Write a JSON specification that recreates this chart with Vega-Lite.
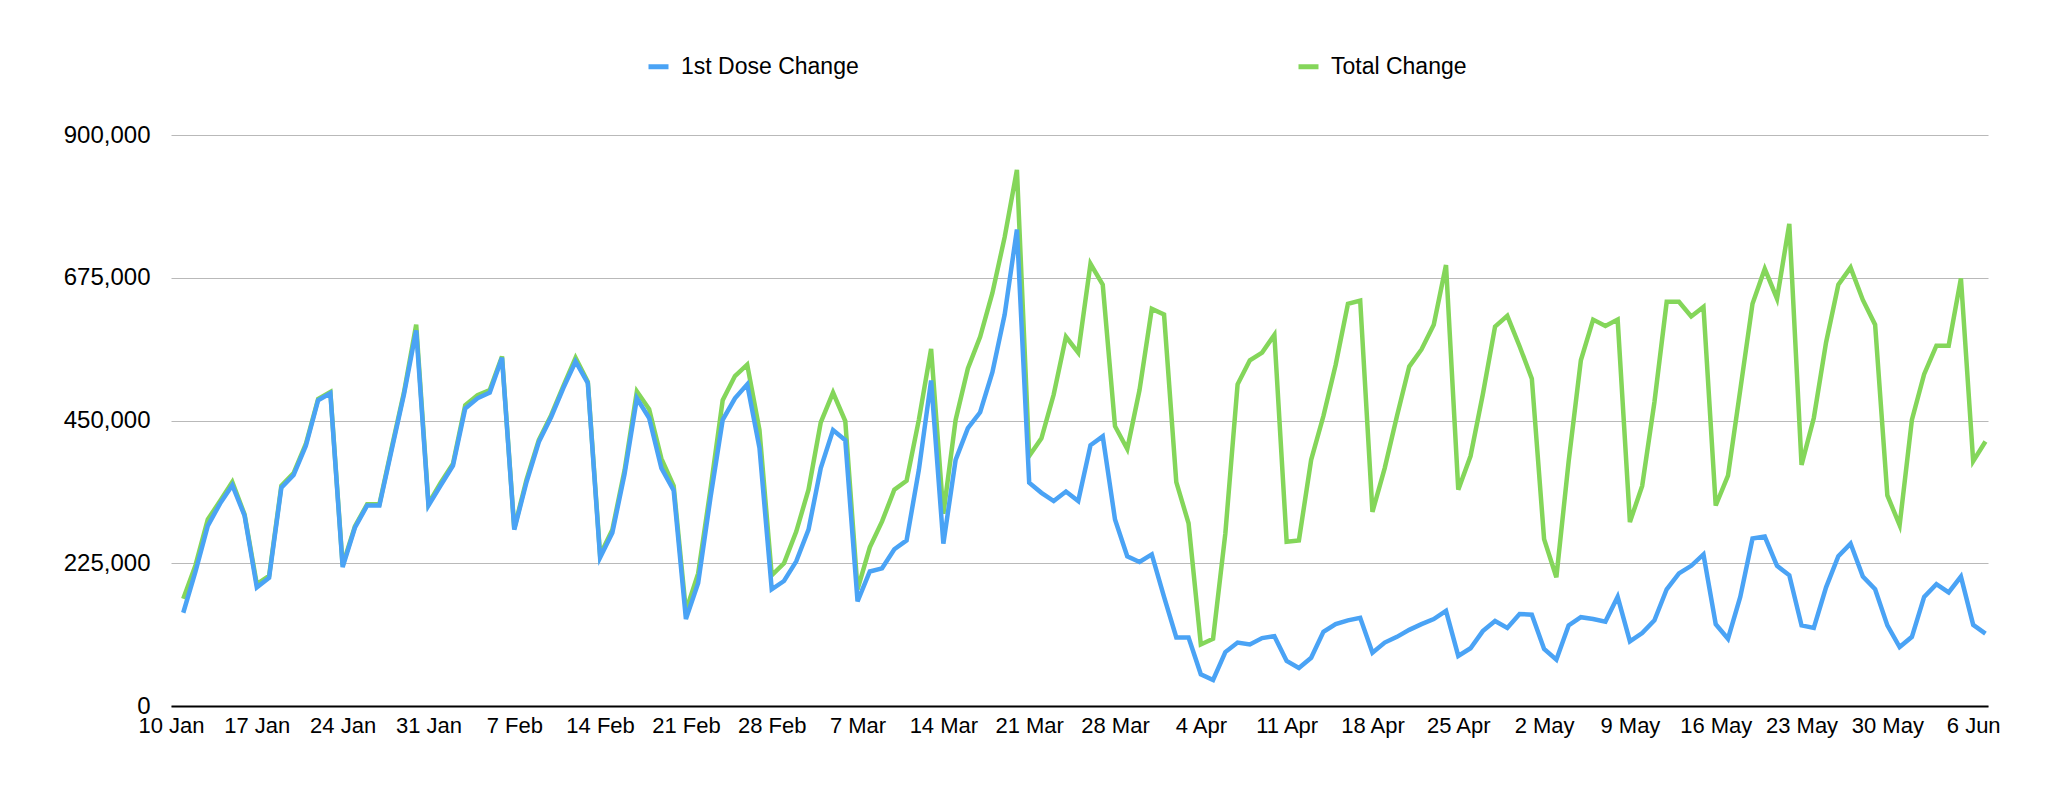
{
  "$schema": "https://vega.github.io/schema/vega-lite/v6.json",
  "width": 1817,
  "height": 571,
  "autosize": "none",
  "padding": {"left": 171, "top": 135, "right": 63, "bottom": 83},
  "background": "white",
  "config": {
    "view": {"stroke": null},
    "font": "Liberation Sans"
  },
  "data": {
    "values": [
      {"date":"2021-01-11","series":"Total Change","value":169000},
      {"date":"2021-01-12","series":"Total Change","value":222000},
      {"date":"2021-01-13","series":"Total Change","value":294000},
      {"date":"2021-01-14","series":"Total Change","value":323000},
      {"date":"2021-01-15","series":"Total Change","value":353000},
      {"date":"2021-01-16","series":"Total Change","value":302000},
      {"date":"2021-01-17","series":"Total Change","value":192000},
      {"date":"2021-01-18","series":"Total Change","value":205000},
      {"date":"2021-01-19","series":"Total Change","value":347000},
      {"date":"2021-01-20","series":"Total Change","value":367000},
      {"date":"2021-01-21","series":"Total Change","value":413000},
      {"date":"2021-01-22","series":"Total Change","value":484000},
      {"date":"2021-01-23","series":"Total Change","value":495000},
      {"date":"2021-01-24","series":"Total Change","value":222000},
      {"date":"2021-01-25","series":"Total Change","value":283000},
      {"date":"2021-01-26","series":"Total Change","value":318000},
      {"date":"2021-01-27","series":"Total Change","value":318000},
      {"date":"2021-01-28","series":"Total Change","value":407000},
      {"date":"2021-01-29","series":"Total Change","value":494000},
      {"date":"2021-01-30","series":"Total Change","value":601000},
      {"date":"2021-01-31","series":"Total Change","value":319000},
      {"date":"2021-02-01","series":"Total Change","value":352000},
      {"date":"2021-02-02","series":"Total Change","value":382000},
      {"date":"2021-02-03","series":"Total Change","value":474000},
      {"date":"2021-02-04","series":"Total Change","value":490000},
      {"date":"2021-02-05","series":"Total Change","value":498000},
      {"date":"2021-02-06","series":"Total Change","value":551000},
      {"date":"2021-02-07","series":"Total Change","value":280000},
      {"date":"2021-02-08","series":"Total Change","value":357000},
      {"date":"2021-02-09","series":"Total Change","value":419000},
      {"date":"2021-02-10","series":"Total Change","value":458000},
      {"date":"2021-02-11","series":"Total Change","value":504000},
      {"date":"2021-02-12","series":"Total Change","value":549000},
      {"date":"2021-02-13","series":"Total Change","value":511000},
      {"date":"2021-02-14","series":"Total Change","value":238000},
      {"date":"2021-02-15","series":"Total Change","value":278000},
      {"date":"2021-02-16","series":"Total Change","value":372000},
      {"date":"2021-02-17","series":"Total Change","value":496000},
      {"date":"2021-02-18","series":"Total Change","value":468000},
      {"date":"2021-02-19","series":"Total Change","value":390000},
      {"date":"2021-02-20","series":"Total Change","value":347000},
      {"date":"2021-02-21","series":"Total Change","value":150000},
      {"date":"2021-02-22","series":"Total Change","value":209000},
      {"date":"2021-02-23","series":"Total Change","value":341000},
      {"date":"2021-02-24","series":"Total Change","value":482000},
      {"date":"2021-02-25","series":"Total Change","value":520000},
      {"date":"2021-02-26","series":"Total Change","value":538000},
      {"date":"2021-02-27","series":"Total Change","value":435000},
      {"date":"2021-02-28","series":"Total Change","value":206000},
      {"date":"2021-03-01","series":"Total Change","value":225000},
      {"date":"2021-03-02","series":"Total Change","value":275000},
      {"date":"2021-03-03","series":"Total Change","value":341000},
      {"date":"2021-03-04","series":"Total Change","value":447000},
      {"date":"2021-03-05","series":"Total Change","value":494000},
      {"date":"2021-03-06","series":"Total Change","value":449000},
      {"date":"2021-03-07","series":"Total Change","value":184000},
      {"date":"2021-03-08","series":"Total Change","value":250000},
      {"date":"2021-03-09","series":"Total Change","value":291000},
      {"date":"2021-03-10","series":"Total Change","value":341000},
      {"date":"2021-03-11","series":"Total Change","value":355000},
      {"date":"2021-03-12","series":"Total Change","value":451000},
      {"date":"2021-03-13","series":"Total Change","value":563000},
      {"date":"2021-03-14","series":"Total Change","value":303000},
      {"date":"2021-03-15","series":"Total Change","value":451000},
      {"date":"2021-03-16","series":"Total Change","value":532000},
      {"date":"2021-03-17","series":"Total Change","value":582000},
      {"date":"2021-03-18","series":"Total Change","value":651000},
      {"date":"2021-03-19","series":"Total Change","value":739000},
      {"date":"2021-03-20","series":"Total Change","value":845000},
      {"date":"2021-03-21","series":"Total Change","value":394000},
      {"date":"2021-03-22","series":"Total Change","value":422000},
      {"date":"2021-03-23","series":"Total Change","value":491000},
      {"date":"2021-03-24","series":"Total Change","value":582000},
      {"date":"2021-03-25","series":"Total Change","value":557000},
      {"date":"2021-03-26","series":"Total Change","value":697000},
      {"date":"2021-03-27","series":"Total Change","value":664000},
      {"date":"2021-03-28","series":"Total Change","value":441000},
      {"date":"2021-03-29","series":"Total Change","value":405000},
      {"date":"2021-03-30","series":"Total Change","value":498000},
      {"date":"2021-03-31","series":"Total Change","value":626000},
      {"date":"2021-04-01","series":"Total Change","value":617000},
      {"date":"2021-04-02","series":"Total Change","value":353000},
      {"date":"2021-04-03","series":"Total Change","value":288000},
      {"date":"2021-04-04","series":"Total Change","value":97000},
      {"date":"2021-04-05","series":"Total Change","value":106000},
      {"date":"2021-04-06","series":"Total Change","value":272000},
      {"date":"2021-04-07","series":"Total Change","value":507000},
      {"date":"2021-04-08","series":"Total Change","value":545000},
      {"date":"2021-04-09","series":"Total Change","value":557000},
      {"date":"2021-04-10","series":"Total Change","value":585000},
      {"date":"2021-04-11","series":"Total Change","value":259000},
      {"date":"2021-04-12","series":"Total Change","value":261000},
      {"date":"2021-04-13","series":"Total Change","value":388000},
      {"date":"2021-04-14","series":"Total Change","value":457000},
      {"date":"2021-04-15","series":"Total Change","value":538000},
      {"date":"2021-04-16","series":"Total Change","value":634000},
      {"date":"2021-04-17","series":"Total Change","value":639000},
      {"date":"2021-04-18","series":"Total Change","value":306000},
      {"date":"2021-04-19","series":"Total Change","value":375000},
      {"date":"2021-04-20","series":"Total Change","value":457000},
      {"date":"2021-04-21","series":"Total Change","value":535000},
      {"date":"2021-04-22","series":"Total Change","value":562000},
      {"date":"2021-04-23","series":"Total Change","value":601000},
      {"date":"2021-04-24","series":"Total Change","value":695000},
      {"date":"2021-04-25","series":"Total Change","value":341000},
      {"date":"2021-04-26","series":"Total Change","value":394000},
      {"date":"2021-04-27","series":"Total Change","value":491000},
      {"date":"2021-04-28","series":"Total Change","value":598000},
      {"date":"2021-04-29","series":"Total Change","value":615000},
      {"date":"2021-04-30","series":"Total Change","value":567000},
      {"date":"2021-05-01","series":"Total Change","value":516000},
      {"date":"2021-05-02","series":"Total Change","value":263000},
      {"date":"2021-05-03","series":"Total Change","value":203000},
      {"date":"2021-05-04","series":"Total Change","value":385000},
      {"date":"2021-05-05","series":"Total Change","value":545000},
      {"date":"2021-05-06","series":"Total Change","value":609000},
      {"date":"2021-05-07","series":"Total Change","value":599000},
      {"date":"2021-05-08","series":"Total Change","value":609000},
      {"date":"2021-05-09","series":"Total Change","value":290000},
      {"date":"2021-05-10","series":"Total Change","value":347000},
      {"date":"2021-05-11","series":"Total Change","value":479000},
      {"date":"2021-05-12","series":"Total Change","value":637000},
      {"date":"2021-05-13","series":"Total Change","value":637000},
      {"date":"2021-05-14","series":"Total Change","value":614000},
      {"date":"2021-05-15","series":"Total Change","value":629000},
      {"date":"2021-05-16","series":"Total Change","value":316000},
      {"date":"2021-05-17","series":"Total Change","value":363000},
      {"date":"2021-05-18","series":"Total Change","value":498000},
      {"date":"2021-05-19","series":"Total Change","value":634000},
      {"date":"2021-05-20","series":"Total Change","value":689000},
      {"date":"2021-05-21","series":"Total Change","value":642000},
      {"date":"2021-05-22","series":"Total Change","value":760000},
      {"date":"2021-05-23","series":"Total Change","value":380000},
      {"date":"2021-05-24","series":"Total Change","value":454000},
      {"date":"2021-05-25","series":"Total Change","value":573000},
      {"date":"2021-05-26","series":"Total Change","value":664000},
      {"date":"2021-05-27","series":"Total Change","value":691000},
      {"date":"2021-05-28","series":"Total Change","value":640000},
      {"date":"2021-05-29","series":"Total Change","value":601000},
      {"date":"2021-05-30","series":"Total Change","value":332000},
      {"date":"2021-05-31","series":"Total Change","value":285000},
      {"date":"2021-06-01","series":"Total Change","value":451000},
      {"date":"2021-06-02","series":"Total Change","value":523000},
      {"date":"2021-06-03","series":"Total Change","value":568000},
      {"date":"2021-06-04","series":"Total Change","value":568000},
      {"date":"2021-06-05","series":"Total Change","value":674000},
      {"date":"2021-06-06","series":"Total Change","value":386000},
      {"date":"2021-06-07","series":"Total Change","value":417000},
      {"date":"2021-01-11","series":"1st Dose Change","value":147000},
      {"date":"2021-01-12","series":"1st Dose Change","value":212000},
      {"date":"2021-01-13","series":"1st Dose Change","value":284000},
      {"date":"2021-01-14","series":"1st Dose Change","value":319000},
      {"date":"2021-01-15","series":"1st Dose Change","value":348000},
      {"date":"2021-01-16","series":"1st Dose Change","value":300000},
      {"date":"2021-01-17","series":"1st Dose Change","value":187000},
      {"date":"2021-01-18","series":"1st Dose Change","value":202000},
      {"date":"2021-01-19","series":"1st Dose Change","value":344000},
      {"date":"2021-01-20","series":"1st Dose Change","value":364000},
      {"date":"2021-01-21","series":"1st Dose Change","value":410000},
      {"date":"2021-01-22","series":"1st Dose Change","value":482000},
      {"date":"2021-01-23","series":"1st Dose Change","value":493000},
      {"date":"2021-01-24","series":"1st Dose Change","value":219000},
      {"date":"2021-01-25","series":"1st Dose Change","value":281000},
      {"date":"2021-01-26","series":"1st Dose Change","value":316000},
      {"date":"2021-01-27","series":"1st Dose Change","value":316000},
      {"date":"2021-01-28","series":"1st Dose Change","value":404000},
      {"date":"2021-01-29","series":"1st Dose Change","value":491000},
      {"date":"2021-01-30","series":"1st Dose Change","value":592000},
      {"date":"2021-01-31","series":"1st Dose Change","value":316000},
      {"date":"2021-02-01","series":"1st Dose Change","value":348000},
      {"date":"2021-02-02","series":"1st Dose Change","value":379000},
      {"date":"2021-02-03","series":"1st Dose Change","value":469000},
      {"date":"2021-02-04","series":"1st Dose Change","value":485000},
      {"date":"2021-02-05","series":"1st Dose Change","value":494000},
      {"date":"2021-02-06","series":"1st Dose Change","value":549000},
      {"date":"2021-02-07","series":"1st Dose Change","value":278000},
      {"date":"2021-02-08","series":"1st Dose Change","value":353000},
      {"date":"2021-02-09","series":"1st Dose Change","value":416000},
      {"date":"2021-02-10","series":"1st Dose Change","value":455000},
      {"date":"2021-02-11","series":"1st Dose Change","value":501000},
      {"date":"2021-02-12","series":"1st Dose Change","value":543000},
      {"date":"2021-02-13","series":"1st Dose Change","value":509000},
      {"date":"2021-02-14","series":"1st Dose Change","value":234000},
      {"date":"2021-02-15","series":"1st Dose Change","value":273000},
      {"date":"2021-02-16","series":"1st Dose Change","value":366000},
      {"date":"2021-02-17","series":"1st Dose Change","value":485000},
      {"date":"2021-02-18","series":"1st Dose Change","value":454000},
      {"date":"2021-02-19","series":"1st Dose Change","value":375000},
      {"date":"2021-02-20","series":"1st Dose Change","value":340000},
      {"date":"2021-02-21","series":"1st Dose Change","value":137000},
      {"date":"2021-02-22","series":"1st Dose Change","value":194000},
      {"date":"2021-02-23","series":"1st Dose Change","value":328000},
      {"date":"2021-02-24","series":"1st Dose Change","value":451000},
      {"date":"2021-02-25","series":"1st Dose Change","value":485000},
      {"date":"2021-02-26","series":"1st Dose Change","value":507000},
      {"date":"2021-02-27","series":"1st Dose Change","value":407000},
      {"date":"2021-02-28","series":"1st Dose Change","value":184000},
      {"date":"2021-03-01","series":"1st Dose Change","value":197000},
      {"date":"2021-03-02","series":"1st Dose Change","value":228000},
      {"date":"2021-03-03","series":"1st Dose Change","value":278000},
      {"date":"2021-03-04","series":"1st Dose Change","value":375000},
      {"date":"2021-03-05","series":"1st Dose Change","value":435000},
      {"date":"2021-03-06","series":"1st Dose Change","value":419000},
      {"date":"2021-03-07","series":"1st Dose Change","value":165000},
      {"date":"2021-03-08","series":"1st Dose Change","value":212000},
      {"date":"2021-03-09","series":"1st Dose Change","value":217000},
      {"date":"2021-03-10","series":"1st Dose Change","value":247000},
      {"date":"2021-03-11","series":"1st Dose Change","value":261000},
      {"date":"2021-03-12","series":"1st Dose Change","value":372000},
      {"date":"2021-03-13","series":"1st Dose Change","value":513000},
      {"date":"2021-03-14","series":"1st Dose Change","value":256000},
      {"date":"2021-03-15","series":"1st Dose Change","value":388000},
      {"date":"2021-03-16","series":"1st Dose Change","value":438000},
      {"date":"2021-03-17","series":"1st Dose Change","value":463000},
      {"date":"2021-03-18","series":"1st Dose Change","value":526000},
      {"date":"2021-03-19","series":"1st Dose Change","value":617000},
      {"date":"2021-03-20","series":"1st Dose Change","value":751000},
      {"date":"2021-03-21","series":"1st Dose Change","value":352000},
      {"date":"2021-03-22","series":"1st Dose Change","value":336000},
      {"date":"2021-03-23","series":"1st Dose Change","value":323000},
      {"date":"2021-03-24","series":"1st Dose Change","value":338000},
      {"date":"2021-03-25","series":"1st Dose Change","value":323000},
      {"date":"2021-03-26","series":"1st Dose Change","value":411000},
      {"date":"2021-03-27","series":"1st Dose Change","value":425000},
      {"date":"2021-03-28","series":"1st Dose Change","value":294000},
      {"date":"2021-03-29","series":"1st Dose Change","value":236000},
      {"date":"2021-03-30","series":"1st Dose Change","value":227000},
      {"date":"2021-03-31","series":"1st Dose Change","value":239000},
      {"date":"2021-04-01","series":"1st Dose Change","value":172000},
      {"date":"2021-04-02","series":"1st Dose Change","value":108000},
      {"date":"2021-04-03","series":"1st Dose Change","value":108000},
      {"date":"2021-04-04","series":"1st Dose Change","value":50000},
      {"date":"2021-04-05","series":"1st Dose Change","value":41000},
      {"date":"2021-04-06","series":"1st Dose Change","value":85000},
      {"date":"2021-04-07","series":"1st Dose Change","value":100000},
      {"date":"2021-04-08","series":"1st Dose Change","value":97000},
      {"date":"2021-04-09","series":"1st Dose Change","value":107000},
      {"date":"2021-04-10","series":"1st Dose Change","value":110000},
      {"date":"2021-04-11","series":"1st Dose Change","value":71000},
      {"date":"2021-04-12","series":"1st Dose Change","value":60000},
      {"date":"2021-04-13","series":"1st Dose Change","value":76000},
      {"date":"2021-04-14","series":"1st Dose Change","value":117000},
      {"date":"2021-04-15","series":"1st Dose Change","value":129000},
      {"date":"2021-04-16","series":"1st Dose Change","value":135000},
      {"date":"2021-04-17","series":"1st Dose Change","value":139000},
      {"date":"2021-04-18","series":"1st Dose Change","value":84000},
      {"date":"2021-04-19","series":"1st Dose Change","value":100000},
      {"date":"2021-04-20","series":"1st Dose Change","value":109000},
      {"date":"2021-04-21","series":"1st Dose Change","value":120000},
      {"date":"2021-04-22","series":"1st Dose Change","value":129000},
      {"date":"2021-04-23","series":"1st Dose Change","value":137000},
      {"date":"2021-04-24","series":"1st Dose Change","value":150000},
      {"date":"2021-04-25","series":"1st Dose Change","value":79000},
      {"date":"2021-04-26","series":"1st Dose Change","value":91000},
      {"date":"2021-04-27","series":"1st Dose Change","value":118000},
      {"date":"2021-04-28","series":"1st Dose Change","value":134000},
      {"date":"2021-04-29","series":"1st Dose Change","value":123000},
      {"date":"2021-04-30","series":"1st Dose Change","value":145000},
      {"date":"2021-05-01","series":"1st Dose Change","value":144000},
      {"date":"2021-05-02","series":"1st Dose Change","value":90000},
      {"date":"2021-05-03","series":"1st Dose Change","value":73000},
      {"date":"2021-05-04","series":"1st Dose Change","value":127000},
      {"date":"2021-05-05","series":"1st Dose Change","value":140000},
      {"date":"2021-05-06","series":"1st Dose Change","value":137000},
      {"date":"2021-05-07","series":"1st Dose Change","value":133000},
      {"date":"2021-05-08","series":"1st Dose Change","value":172000},
      {"date":"2021-05-09","series":"1st Dose Change","value":102000},
      {"date":"2021-05-10","series":"1st Dose Change","value":115000},
      {"date":"2021-05-11","series":"1st Dose Change","value":135000},
      {"date":"2021-05-12","series":"1st Dose Change","value":184000},
      {"date":"2021-05-13","series":"1st Dose Change","value":209000},
      {"date":"2021-05-14","series":"1st Dose Change","value":221000},
      {"date":"2021-05-15","series":"1st Dose Change","value":239000},
      {"date":"2021-05-16","series":"1st Dose Change","value":129000},
      {"date":"2021-05-17","series":"1st Dose Change","value":106000},
      {"date":"2021-05-18","series":"1st Dose Change","value":172000},
      {"date":"2021-05-19","series":"1st Dose Change","value":264000},
      {"date":"2021-05-20","series":"1st Dose Change","value":267000},
      {"date":"2021-05-21","series":"1st Dose Change","value":221000},
      {"date":"2021-05-22","series":"1st Dose Change","value":206000},
      {"date":"2021-05-23","series":"1st Dose Change","value":127000},
      {"date":"2021-05-24","series":"1st Dose Change","value":123000},
      {"date":"2021-05-25","series":"1st Dose Change","value":187000},
      {"date":"2021-05-26","series":"1st Dose Change","value":236000},
      {"date":"2021-05-27","series":"1st Dose Change","value":256000},
      {"date":"2021-05-28","series":"1st Dose Change","value":204000},
      {"date":"2021-05-29","series":"1st Dose Change","value":184000},
      {"date":"2021-05-30","series":"1st Dose Change","value":127000},
      {"date":"2021-05-31","series":"1st Dose Change","value":93000},
      {"date":"2021-06-01","series":"1st Dose Change","value":109000},
      {"date":"2021-06-02","series":"1st Dose Change","value":172000},
      {"date":"2021-06-03","series":"1st Dose Change","value":192000},
      {"date":"2021-06-04","series":"1st Dose Change","value":179000},
      {"date":"2021-06-05","series":"1st Dose Change","value":204000},
      {"date":"2021-06-06","series":"1st Dose Change","value":128000},
      {"date":"2021-06-07","series":"1st Dose Change","value":114000}
    ]
  },
  "mark": {"type": "line", "strokeWidth": 4.5, "strokeJoin": "miter", "strokeCap": "butt"},
  "encoding": {
    "x": {
      "field": "date",
      "type": "temporal",
      "scale": {
        "type": "utc",
        "domain": [
          {"year": 2021, "month": 1, "date": 10, "utc": true},
          {"year": 2021, "month": 6, "date": 7, "hours": 5, "utc": true}
        ]
      },
      "axis": {
        "title": null,
        "grid": false,
        "ticks": false,
        "domainColor": "black",
        "domainWidth": 2,
        "labelFontSize": 22,
        "labelColor": "black",
        "labelPadding": 9,
        "labelOverlap": false,
        "labelFlush": false,
        "labelExpr": "utcFormat(datum.value, '%-d %b')",
        "values": [
          {"year": 2021, "month": 1, "date": 10, "utc": true},
          {"year": 2021, "month": 1, "date": 17, "utc": true},
          {"year": 2021, "month": 1, "date": 24, "utc": true},
          {"year": 2021, "month": 1, "date": 31, "utc": true},
          {"year": 2021, "month": 2, "date": 7, "utc": true},
          {"year": 2021, "month": 2, "date": 14, "utc": true},
          {"year": 2021, "month": 2, "date": 21, "utc": true},
          {"year": 2021, "month": 2, "date": 28, "utc": true},
          {"year": 2021, "month": 3, "date": 7, "utc": true},
          {"year": 2021, "month": 3, "date": 14, "utc": true},
          {"year": 2021, "month": 3, "date": 21, "utc": true},
          {"year": 2021, "month": 3, "date": 28, "utc": true},
          {"year": 2021, "month": 4, "date": 4, "utc": true},
          {"year": 2021, "month": 4, "date": 11, "utc": true},
          {"year": 2021, "month": 4, "date": 18, "utc": true},
          {"year": 2021, "month": 4, "date": 25, "utc": true},
          {"year": 2021, "month": 5, "date": 2, "utc": true},
          {"year": 2021, "month": 5, "date": 9, "utc": true},
          {"year": 2021, "month": 5, "date": 16, "utc": true},
          {"year": 2021, "month": 5, "date": 23, "utc": true},
          {"year": 2021, "month": 5, "date": 30, "utc": true},
          {"year": 2021, "month": 6, "date": 6, "utc": true}
        ]
      }
    },
    "y": {
      "field": "value",
      "type": "quantitative",
      "scale": {"domain": [0, 900000], "nice": false},
      "axis": {
        "title": null,
        "domain": false,
        "ticks": false,
        "gridColor": "#b9b9b9",
        "gridWidth": 1,
        "labelFontSize": 24,
        "labelColor": "black",
        "labelPadding": 21,
        "format": ",.0f",
        "values": [0, 225000, 450000, 675000, 900000]
      }
    },
    "color": {
      "field": "series",
      "type": "nominal",
      "scale": {
        "domain": ["1st Dose Change", "Total Change"],
        "range": ["#4aa3f5", "#84d65a"]
      },
      "legend": {
        "title": null,
        "orient": "none",
        "legendX": 475,
        "legendY": -81,
        "direction": "horizontal",
        "symbolType": "stroke",
        "symbolSize": 400,
        "symbolStrokeWidth": 5,
        "labelFontSize": 23,
        "labelColor": "black",
        "labelOffset": 10,
        "columnPadding": 429,
        "labelLimit": 400
      }
    }
  }
}
